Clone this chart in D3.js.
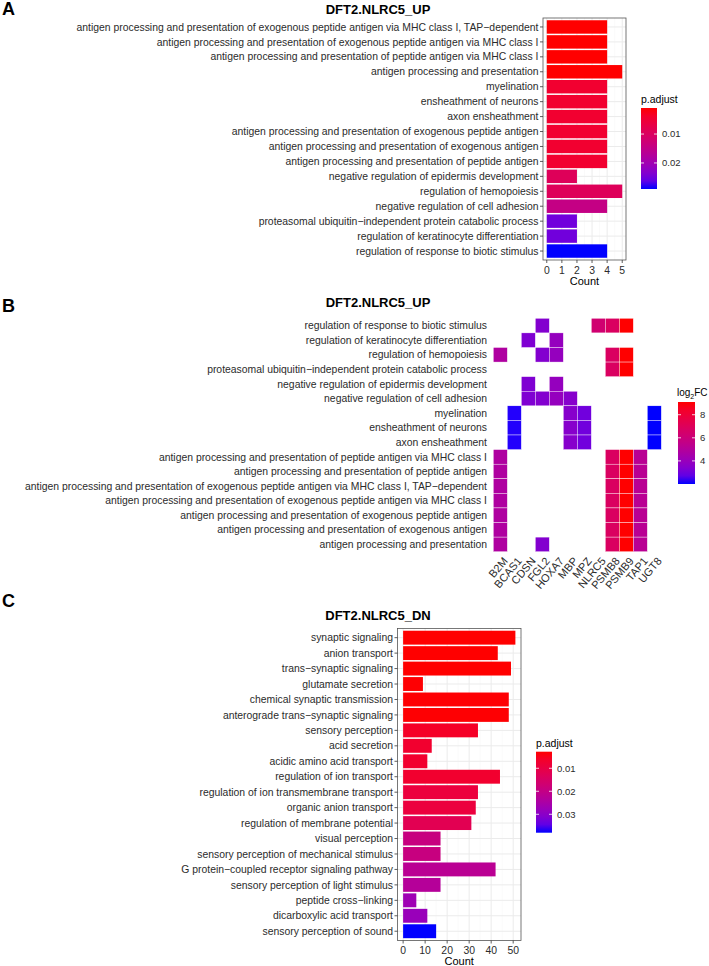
<!DOCTYPE html>
<html>
<head>
<meta charset="utf-8">
<script src="https://cdn.jsdelivr.net/npm/d3@7"></script>
<style>
  body { margin: 0; background: #fff; }
  svg { font-family: "Liberation Sans", Arial, sans-serif; }
</style>
</head>
<body>
<svg id="chart" width="709" height="966"></svg>
<script>
// ---- panel A: enrichment of up genes ----
const aTerms = [
  "antigen processing and presentation of exogenous peptide antigen via MHC class I, TAP\u2212dependent",
  "antigen processing and presentation of exogenous peptide antigen via MHC class I",
  "antigen processing and presentation of peptide antigen via MHC class I",
  "antigen processing and presentation",
  "myelination",
  "ensheathment of neurons",
  "axon ensheathment",
  "antigen processing and presentation of exogenous peptide antigen",
  "antigen processing and presentation of exogenous antigen",
  "antigen processing and presentation of peptide antigen",
  "negative regulation of epidermis development",
  "regulation of hemopoiesis",
  "negative regulation of cell adhesion",
  "proteasomal ubiquitin\u2212independent protein catabolic process",
  "regulation of keratinocyte differentiation",
  "regulation of response to biotic stimulus"
];
const aCounts = [4, 4, 4, 5, 4, 4, 4, 4, 4, 4, 2, 5, 4, 2, 2, 4];
const aPadj = [0.001, 0.001, 0.001, 0.001, 0.0044, 0.0044, 0.0044, 0.0044, 0.0044, 0.0044,
               0.0092, 0.0092, 0.0145, 0.025, 0.025, 0.029];
const aTicks = [0, 1, 2, 3, 4, 5];
const aLegendTicks = [0.01, 0.02];

// ---- panel B: gene / term heatmap ----
const bTerms = [
  "regulation of response to biotic stimulus",
  "regulation of keratinocyte differentiation",
  "regulation of hemopoiesis",
  "proteasomal ubiquitin\u2212independent protein catabolic process",
  "negative regulation of epidermis development",
  "negative regulation of cell adhesion",
  "myelination",
  "ensheathment of neurons",
  "axon ensheathment",
  "antigen processing and presentation of peptide antigen via MHC class I",
  "antigen processing and presentation of peptide antigen",
  "antigen processing and presentation of exogenous peptide antigen via MHC class I, TAP\u2212dependent",
  "antigen processing and presentation of exogenous peptide antigen via MHC class I",
  "antigen processing and presentation of exogenous peptide antigen",
  "antigen processing and presentation of exogenous antigen",
  "antigen processing and presentation"
];
const bGenes = ["B2M", "BCAS1", "CDSN", "FGL2", "HOXA7", "MBP", "MPZ", "NLRC5", "PSMB8", "PSMB9", "TAP1", "UGT8"];
const bGeneFC = [4.8, 2.1, 3.3, 3.4, 3.9, 3.5, 3.0, 6.3, 6.8, 9.1, 5.2, 2.0];
const bTermGenes = [
  ["FGL2", "NLRC5", "PSMB8", "PSMB9"],
  ["CDSN", "HOXA7"],
  ["B2M", "FGL2", "HOXA7", "PSMB8", "PSMB9"],
  ["PSMB8", "PSMB9"],
  ["CDSN", "HOXA7"],
  ["CDSN", "FGL2", "HOXA7", "MBP"],
  ["BCAS1", "MBP", "MPZ", "UGT8"],
  ["BCAS1", "MBP", "MPZ", "UGT8"],
  ["BCAS1", "MBP", "MPZ", "UGT8"],
  ["B2M", "PSMB8", "PSMB9", "TAP1"],
  ["B2M", "PSMB8", "PSMB9", "TAP1"],
  ["B2M", "PSMB8", "PSMB9", "TAP1"],
  ["B2M", "PSMB8", "PSMB9", "TAP1"],
  ["B2M", "PSMB8", "PSMB9", "TAP1"],
  ["B2M", "PSMB8", "PSMB9", "TAP1"],
  ["B2M", "FGL2", "PSMB8", "PSMB9", "TAP1"]
];
const bLegendTicks = [4, 6, 8];

// ---- panel C: enrichment of down genes ----
const cTerms = [
  "synaptic signaling", "anion transport", "trans\u2212synaptic signaling", "glutamate secretion",
  "chemical synaptic transmission", "anterograde trans\u2212synaptic signaling", "sensory perception",
  "acid secretion", "acidic amino acid transport", "regulation of ion transport",
  "regulation of ion transmembrane transport", "organic anion transport",
  "regulation of membrane potential", "visual perception",
  "sensory perception of mechanical stimulus", "G protein\u2212coupled receptor signaling pathway",
  "sensory perception of light stimulus", "peptide cross\u2212linking",
  "dicarboxylic acid transport", "sensory perception of sound"
];
const cCounts = [51, 43, 49, 9, 48, 48, 34, 13, 11, 44, 34, 33, 31, 17, 17, 42, 17, 6, 11, 15];
const cPadj = [0.0028, 0.0028, 0.0028, 0.003, 0.003, 0.003, 0.006, 0.007, 0.007, 0.007,
               0.009, 0.009, 0.012, 0.019, 0.019, 0.022, 0.023, 0.027, 0.028, 0.038];
const cTicks = [0, 10, 20, 30, 40, 50];
const cLegendTicks = [0.01, 0.02, 0.03];

const svg = d3.select("#chart");
const textCol = "#2b2b2b";
const fs = 10.4;

function labLetter(letter, y) {
  svg.append("text").attr("x", 2).attr("y", y).text(letter)
    .attr("font-size", 18).attr("font-weight", "bold").attr("fill", "#000");
}

function plotTitle(t, y) {
  svg.append("text").attr("x", 378).attr("y", y).attr("text-anchor", "middle")
    .attr("font-size", 13).attr("font-weight", "bold").attr("fill", "#000").text(t);
}

// colourbar legend, top value at the top of the bar
function colourBar(id, x, y, w, h, topVal, botVal, ticks, color) {
  const grad = svg.append("defs").append("linearGradient")
    .attr("id", id).attr("x1", 0).attr("x2", 0).attr("y1", 0).attr("y2", 1);
  d3.range(0, 11).forEach(i => {
    grad.append("stop").attr("offset", i / 10)
      .attr("stop-color", color(topVal + (botVal - topVal) * i / 10));
  });
  svg.append("rect").attr("x", x).attr("y", y).attr("width", w).attr("height", h)
    .attr("fill", `url(#${id})`);
  const ys = d3.scaleLinear().domain([topVal, botVal]).range([y, y + h]);
  ticks.forEach(t => {
    svg.append("line").attr("x1", x).attr("x2", x + 3).attr("y1", ys(t)).attr("y2", ys(t))
      .attr("stroke", "#fff").attr("stroke-width", 0.8);
    svg.append("line").attr("x1", x + w - 3).attr("x2", x + w).attr("y1", ys(t)).attr("y2", ys(t))
      .attr("stroke", "#fff").attr("stroke-width", 0.8);
    svg.append("text").attr("x", x + w + 5).attr("y", ys(t)).attr("dy", "0.35em")
      .attr("font-size", 9.5).attr("fill", textCol).text(t);
  });
}

function barPanel(terms, counts, padj, ticks, minor, xr, yr, legend) {
  const pExt = d3.extent(padj);
  const color = d3.scaleLinear().domain(pExt).range(["red", "blue"]).interpolate(d3.interpolateLab);
  const maxC = d3.max(counts);
  const x = d3.scaleLinear().domain([-0.05 * maxC, maxC * 1.05]).range(xr);
  const y = d3.scaleBand().domain(terms).range(yr).paddingInner(0.1).paddingOuter(0.15);
  const g = svg.append("g");

  minor.forEach(v => g.append("line").attr("x1", x(v)).attr("x2", x(v))
    .attr("y1", yr[0]).attr("y2", yr[1]).attr("stroke", "#F4F4F4").attr("stroke-width", 0.5));
  ticks.forEach(v => g.append("line").attr("x1", x(v)).attr("x2", x(v))
    .attr("y1", yr[0]).attr("y2", yr[1]).attr("stroke", "#EBEBEB").attr("stroke-width", 1));
  terms.forEach(t => g.append("line").attr("x1", xr[0]).attr("x2", xr[1])
    .attr("y1", y(t) + y.bandwidth() / 2).attr("y2", y(t) + y.bandwidth() / 2)
    .attr("stroke", "#EBEBEB").attr("stroke-width", 1));

  g.selectAll("rect.bar").data(terms).join("rect").attr("class", "bar")
    .attr("x", x(0)).attr("y", d => y(d))
    .attr("width", (d, i) => x(counts[i]) - x(0)).attr("height", y.bandwidth())
    .attr("fill", (d, i) => color(padj[i]));

  g.append("rect").attr("x", xr[0]).attr("y", yr[0])
    .attr("width", xr[1] - xr[0]).attr("height", yr[1] - yr[0])
    .attr("fill", "none").attr("stroke", "#555").attr("stroke-width", 0.8);

  // y axis
  terms.forEach(t => {
    const cy = y(t) + y.bandwidth() / 2;
    g.append("line").attr("x1", xr[0] - 3).attr("x2", xr[0]).attr("y1", cy).attr("y2", cy)
      .attr("stroke", "#333").attr("stroke-width", 0.8);
    g.append("text").attr("x", xr[0] - 4.5).attr("y", cy).attr("dy", "0.35em")
      .attr("text-anchor", "end").attr("font-size", fs).attr("fill", textCol).text(t);
  });
  // x axis
  ticks.forEach(v => {
    g.append("line").attr("x1", x(v)).attr("x2", x(v)).attr("y1", yr[1]).attr("y2", yr[1] + 3)
      .attr("stroke", "#333").attr("stroke-width", 0.8);
    g.append("text").attr("x", x(v)).attr("y", yr[1] + 13.5).attr("text-anchor", "middle")
      .attr("font-size", fs).attr("fill", textCol).text(v);
  });
  g.append("text").attr("x", (xr[0] + xr[1]) / 2).attr("y", yr[1] + 24.5)
    .attr("text-anchor", "middle").attr("font-size", 11).attr("fill", "#000").text("Count");

  svg.append("text").attr("x", legend.x).attr("y", legend.y - 5).attr("font-size", 10.5)
    .attr("fill", "#000").text("p.adjust");
  colourBar(legend.id, legend.x, legend.y, 16, 81, pExt[0], pExt[1], legend.ticks, color);
}

// ---------- A ----------
labLetter("A", 15);
plotTitle("DFT2.NLRC5_UP", 14);
barPanel(aTerms, aCounts, aPadj, aTicks, [0.5, 1.5, 2.5, 3.5, 4.5],
  [543, 626], [18, 260], { id: "gA", x: 641, y: 108, ticks: aLegendTicks });

// ---------- B ----------
labLetter("B", 312);
plotTitle("DFT2.NLRC5_UP", 307);
(function () {
  const fcExt = d3.extent(bGeneFC);
  const color = d3.scaleLinear().domain(fcExt).range(["blue", "red"]).interpolate(d3.interpolateLab);
  const x = d3.scaleBand().domain(bGenes).range([493.3, 661.3]);
  const y = d3.scaleBand().domain(bTerms).range([318.3, 551.7]);
  const g = svg.append("g");
  const cells = [];
  bTermGenes.forEach((gs, i) => gs.forEach(gene => cells.push({ term: bTerms[i], gene })));
  g.selectAll("rect").data(cells).join("rect")
    .attr("x", d => x(d.gene)).attr("y", d => y(d.term))
    .attr("width", x.bandwidth()).attr("height", y.bandwidth())
    .attr("fill", d => color(bGeneFC[bGenes.indexOf(d.gene)]))
    .attr("stroke", "#fff").attr("stroke-width", 0.4);

  bTerms.forEach(t => {
    g.append("text").attr("x", 487).attr("y", y(t) + y.bandwidth() / 2).attr("dy", "0.35em")
      .attr("text-anchor", "end").attr("font-size", fs).attr("fill", textCol).text(t);
  });
  bGenes.forEach(gene => {
    g.append("text")
      .attr("transform", `translate(${x(gene) + x.bandwidth() / 2 + 3},557) rotate(-50)`)
      .attr("dy", "0.6em").attr("text-anchor", "end").attr("font-size", 11)
      .attr("fill", textCol).text(gene);
  });

  const lt = svg.append("text").attr("x", 677).attr("y", 396).attr("font-size", 10).attr("fill", "#000");
  lt.append("tspan").text("log");
  lt.append("tspan").attr("font-size", 7).attr("dy", 3).text("2");
  lt.append("tspan").attr("dy", -3).text("FC");
  colourBar("gB", 678, 402, 17, 82, fcExt[1], fcExt[0], bLegendTicks, color);
})();

// ---------- C ----------
labLetter("C", 607);
plotTitle("DFT2.NLRC5_DN", 620);
barPanel(cTerms, cCounts, cPadj, cTicks, [5, 15, 25, 35, 45],
  [397.5, 521], [628.4, 940.5], { id: "gC", x: 536, y: 751.7, ticks: cLegendTicks });
</script>
</body>
</html>
